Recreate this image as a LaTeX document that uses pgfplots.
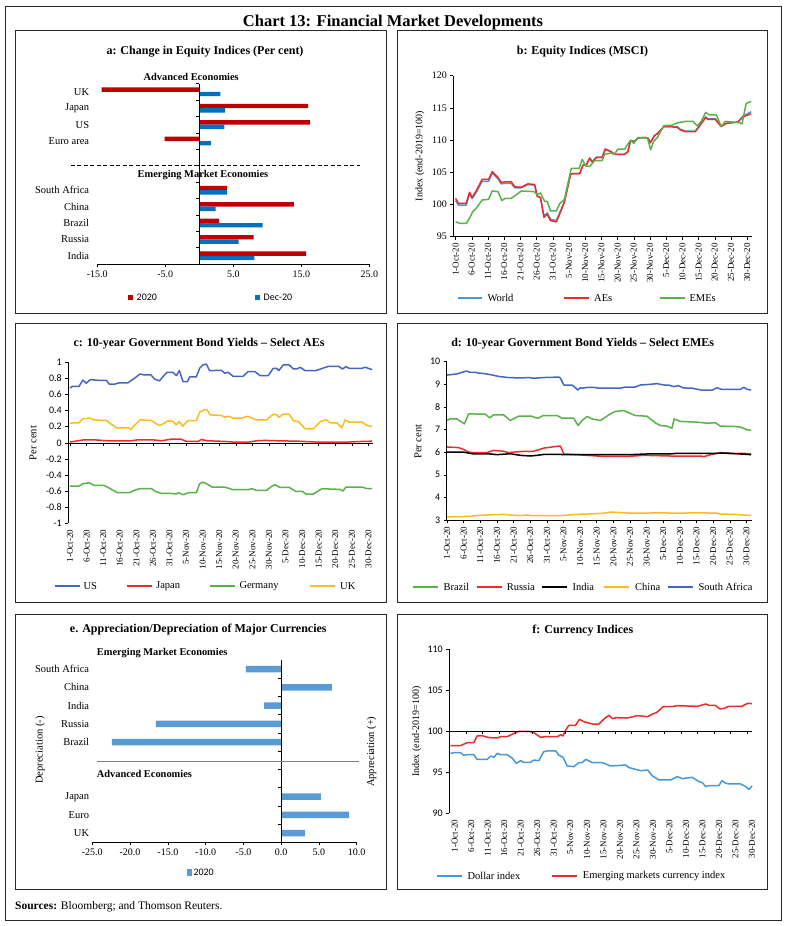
\documentclass[border=0pt]{standalone}
\usepackage{fontspec}
\setmainfont{Liberation Serif}
\newfontfamily\calibri{Carlito}
\usepackage{pgfplots}
\pgfplotsset{compat=1.18}

\definecolor{barred}{RGB}{192,0,0}
\definecolor{barblue}{RGB}{0,112,192}
\definecolor{lightbar}{RGB}{91,155,213}
\definecolor{cworld}{RGB}{70,152,216}
\definecolor{cred}{RGB}{232,45,45}
\definecolor{cgreen}{RGB}{88,178,72}
\definecolor{cblue}{RGB}{68,102,190}
\definecolor{corange}{RGB}{250,188,30}
\definecolor{frame}{RGB}{40,40,40}

\newcommand\fs[1]{\fontsize{#1}{#1}\selectfont}

\pgfplotsset{
  base/.style={scale only axis, anchor=south west, clip=false,
    /pgf/number format/assume math mode=true,
    tick align=outside, major tick length=3pt,
    every tick/.style={black, line width=0.5pt},
    axis line style={black, line width=0.6pt},
    tick label style={font=\fs{10}},
    axis x line*=bottom, axis y line*=left},
  dates/.style={xtick={0,5,...,90},
    xticklabels={1-Oct-20,6-Oct-20,11-Oct-20,16-Oct-20,21-Oct-20,26-Oct-20,31-Oct-20,5-Nov-20,10-Nov-20,15-Nov-20,20-Nov-20,25-Nov-20,30-Nov-20,5-Dec-20,10-Dec-20,15-Dec-20,20-Dec-20,25-Dec-20,30-Dec-20},
    xticklabel style={rotate=90, anchor=east, font=\fs{9}}},
  ln/.style={no markers, line width=1.5pt, line join=round},
}
\tikzset{lg/.style={line width=1.8pt}}

\begin{document}
\begin{tikzpicture}
\useasboundingbox (0pt,0pt) rectangle (785pt,-926pt);

% ---------- a: change in equity indices
\begin{axis}[base, at={(97.3pt,-264pt)}, width=272pt, height=180.4pt,
  xbar, bar width=4.4pt,
  xmin=-15, xmax=25, ymin=-0.5, ymax=10.5,
  xtick={-15,-5,5,15,25}, xticklabels={-15.0,-5.0,5.0,15.0,25.0},
  ytick={0,...,10},
  yticklabels={India,Russia,Brazil,China,South Africa,,,Euro area,US,Japan,UK},
  y axis line style={draw=none}, ytick style={draw=none},
  yticklabel style={font=\fs{10.5}, inner sep=0pt, xshift=-5pt}]
\addplot[fill=barred, draw=none, bar shift=2.2pt] coordinates {
  (15.7,0) (8.0,1) (2.9,2) (13.9,3) (4.1,4) (-5.1,7) (16.3,8) (16.0,9) (-14.35,10)};
\addplot[fill=barblue, draw=none, bar shift=-2.2pt] coordinates {
  (8.1,0) (5.8,1) (9.3,2) (2.4,3) (4.1,4) (1.7,7) (3.7,8) (3.8,9) (3.1,10)};
\draw[line width=0.6pt] (axis cs:0,-0.5) -- (axis cs:0,10.5);
\pgfplotsinvokeforeach{0.5,1.5,...,10.5}{\draw[line width=0.5pt] (axis cs:0,#1) -- ++(-3pt,0pt);}
\draw[line width=0.7pt, dash pattern=on 4pt off 2.5pt] (axis cs:-18.9,5.5) -- (axis cs:23.6,5.5);
\end{axis}

% ---------- b: equity indices
\begin{axis}[base, dates, at={(453.3pt,-236.7pt)}, width=298.4pt, height=161pt,
  xmin=-0.7, xmax=91.4, ymin=95, ymax=120, ytick={95,100,...,120}]
\addplot[ln, cworld] coordinates {
(0,100.6) (0.9,99.9) (3.3,99.9) (4.3,101.7) (5.1,100.9) (6.4,101.9) (8.2,103.6) (10.2,103.6) (11.3,104.9) (13.1,104.0) (14.1,103.2) (15.1,103.3) (17.2,103.3) (18.2,102.6) (20.3,102.6) (22.3,103.1) (24.4,103.0) (25.2,101.3) (26.2,101.0) (27.3,98.2) (28.3,98.7) (29.3,97.7) (31.1,97.5) (32.1,98.6) (33.6,100.5) (35.5,104.7) (36.2,104.8) (38.3,104.8) (39.3,106.1) (40.3,106.1) (41.4,107.2) (42.2,106.6) (43.4,107.3) (45.2,107.3) (46.2,108.6) (48.0,108.2) (49.1,107.8) (52.2,107.8) (53.2,108.2) (54.0,109.9) (55.2,109.8) (56.3,110.3) (58.3,110.4) (59.4,110.3) (60.1,109.6) (61.4,110.7) (62.4,111.05) (64.3,112.1) (66.6,112.1) (67.6,112.1) (68.4,112.1) (69.3,111.7) (70.9,111.4) (74.0,111.4) (75.1,112.1) (77.2,113.6) (77.9,113.3) (80.2,113.3) (82.0,112.1) (83.5,112.6) (87.1,112.8) (88.7,113.7) (91.2,114.4)};
\addplot[ln, cred] coordinates {
(0,100.96) (0.9,100.18) (3.3,100.18) (4.3,101.9) (5.1,101.1) (6.4,102.15) (8.2,103.9) (10.2,103.9) (11.3,105.1) (13.1,104.2) (14.1,103.4) (15.1,103.5) (17.2,103.5) (18.2,102.8) (19.2,102.7) (20.3,102.7) (22.3,103.2) (24.4,103.1) (25.2,101.3) (26.2,101.1) (27.3,98.0) (28.3,98.5) (29.3,97.5) (31.1,97.3) (32.1,98.5) (33.6,100.4) (35.5,104.7) (36.2,104.8) (38.3,104.8) (39.3,106.1) (40.3,106.1) (41.4,107.2) (42.2,106.6) (43.4,107.3) (45.2,107.3) (46.2,108.6) (48.0,108.2) (49.1,107.8) (52.2,107.8) (53.2,108.2) (54.0,109.9) (55.2,109.8) (56.3,110.3) (58.3,110.4) (59.4,110.3) (60.1,109.6) (61.4,110.7) (62.4,111.05) (64.3,112.1) (66.6,112.1) (67.6,112.0) (68.4,112.0) (69.3,111.6) (70.9,111.3) (74.0,111.3) (75.1,112.1) (77.2,113.5) (77.9,113.2) (80.2,113.2) (82.0,112.1) (83.5,112.6) (87.1,112.8) (88.7,113.6) (91.2,114.1)};
\addplot[ln, cgreen] coordinates {
(0,97.33) (1.2,97.07) (3.3,97.07) (4.3,97.85) (5.3,98.9) (6.4,99.4) (8.2,100.7) (10.2,100.8) (11.3,102.1) (13.1,102.0) (14.3,100.6) (15.3,100.96) (17.2,100.96) (18.7,101.5) (20.3,102.1) (24.2,102.0) (25.2,101.5) (26.2,101.8) (27.5,100.5) (28.3,100.5) (29.3,99.0) (31.1,99.0) (32.1,100.1) (33.6,100.8) (35.7,105.6) (38.1,105.6) (39.1,107.0) (40.1,106.0) (41.4,105.9) (42.9,106.8) (45.2,106.8) (46.0,107.8) (48.0,108.0) (49.0,107.8) (50.1,108.6) (52.2,108.6) (54.0,110.0) (55.0,109.5) (56.3,110.4) (59.2,110.4) (60.2,108.5) (61.1,109.75) (62.4,110.5) (64.3,112.25) (66.6,112.3) (68.6,112.7) (70.9,112.9) (73.3,112.9) (74.6,112.2) (75.8,112.9) (77.2,114.3) (78.4,113.9) (80.5,113.9) (82.0,112.1) (83.2,112.9) (87.7,112.7) (88.4,112.5) (89.7,115.7) (91.2,116.0)};
\end{axis}

% ---------- c: bond yields AEs
\begin{axis}[base, dates, at={(68.3pt,-523.3pt)}, width=304.4pt, height=161pt,
  xmin=-0.51, xmax=91.3, ymin=-1, ymax=1,
  x axis line style={draw=none}, xtick style={draw=none},
  ytick={-1,-0.8,-0.6,-0.4,-0.2,0,0.2,0.4,0.6,0.8,1},
  yticklabels={-1,-0.8,-0.6,-0.4,-0.2,0,0.2,0.4,0.6,0.8,1},
  yticklabel style={font=\calibri\fs{10}}]
\addplot[ln, cblue] coordinates {
(0,0.68) (0.7,0.70) (2.7,0.70) (3.9,0.78) (4.9,0.74) (6.1,0.785) (8.3,0.777) (11.0,0.777) (11.8,0.73) (13.3,0.727) (14.8,0.744) (17.4,0.744) (19.4,0.80) (21.1,0.855) (22.4,0.843) (24.4,0.843) (25.5,0.793) (27.0,0.769) (28.5,0.843) (29.3,0.876) (31.0,0.876) (32.1,0.835) (33.0,0.897) (34.1,0.76) (35.4,0.76) (36.1,0.818) (38.1,0.818) (39.1,0.926) (40.1,0.967) (41.1,0.979) (42.1,0.897) (45.7,0.90) (46.7,0.864) (47.7,0.876) (49.2,0.826) (52.2,0.826) (53.7,0.884) (55.8,0.884) (57.3,0.835) (59.8,0.835) (61.3,0.926) (62.3,0.926) (63.0,0.897) (64.3,0.967) (66.1,0.967) (67.4,0.917) (68.4,0.917) (69.4,0.938) (70.9,0.897) (74.1,0.897) (76.5,0.93) (78.0,0.95) (81.0,0.95) (82.2,0.917) (83.2,0.946) (84.2,0.926) (88.1,0.926) (89.1,0.938) (91.1,0.909)};
\addplot[ln, cred] coordinates {
(0,0.01) (4.2,0.037) (7.3,0.037) (11.3,0.025) (18.4,0.025) (20.4,0.037) (24.9,0.037) (27.5,0.025) (30.5,0.045) (33.5,0.045) (35.1,0.017) (38.6,0.017) (39.6,0.04) (41.6,0.025) (46.7,0.017) (49.7,0.008) (53.7,0.008) (56.3,0.025) (58.8,0.03) (62.8,0.025) (68.9,0.02) (75,0.008) (83,0.008) (88.1,0.017) (91.1,0.02)};
\addplot[ln, cgreen] coordinates {
(0,-0.537) (2.7,-0.537) (3.9,-0.508) (5.8,-0.496) (7.3,-0.529) (10.3,-0.529) (11.8,-0.562) (14.3,-0.62) (17.9,-0.62) (19.4,-0.59) (21.1,-0.57) (24.6,-0.57) (25.7,-0.603) (27.5,-0.628) (30.5,-0.628) (32.0,-0.636) (32.8,-0.62) (34.0,-0.645) (35.8,-0.62) (38.1,-0.62) (39.1,-0.508) (40.1,-0.488) (41.1,-0.508) (42.9,-0.55) (46.7,-0.55) (47.9,-0.566) (49.2,-0.583) (53.7,-0.583) (54.7,-0.57) (56.3,-0.59) (59.3,-0.59) (60.8,-0.541) (61.8,-0.52) (63.3,-0.554) (66.1,-0.554) (68.1,-0.603) (70.1,-0.603) (71.1,-0.636) (73.4,-0.636) (76.0,-0.57) (81.5,-0.579) (82.3,-0.6) (83.2,-0.55) (88.1,-0.55) (89.6,-0.57) (91.1,-0.57)};
\addplot[ln, corange] coordinates {
(0,0.236) (0.7,0.248) (2.7,0.248) (3.9,0.30) (4.9,0.30) (6.1,0.306) (7.3,0.285) (11.0,0.277) (12.3,0.236) (14.0,0.186) (17.6,0.186) (18.4,0.165) (19.4,0.215) (21.1,0.285) (24.6,0.277) (25.7,0.244) (27.0,0.215) (28.5,0.244) (29.2,0.269) (31.0,0.269) (32.0,0.223) (33.0,0.264) (34.0,0.207) (35.6,0.277) (38.1,0.277) (39.1,0.38) (40.6,0.413) (41.3,0.41) (42.3,0.347) (45.7,0.339) (46.7,0.318) (47.9,0.33) (49.2,0.306) (51.7,0.306) (53.7,0.33) (55.3,0.298) (56.3,0.285) (59.3,0.285) (61.3,0.355) (62.3,0.35) (63.0,0.318) (64.3,0.355) (66.1,0.355) (67.4,0.273) (68.9,0.264) (70.9,0.174) (73.4,0.174) (75.5,0.264) (77.2,0.289) (78.5,0.248) (80.5,0.248) (82.0,0.186) (83.0,0.285) (84.2,0.256) (88.1,0.256) (89.6,0.215) (91.1,0.202)};
\draw[line width=0.6pt] (axis cs:-0.51,0) -- (axis cs:91.3,0);
\pgfplotsinvokeforeach{0,5,...,90}{\draw[line width=0.5pt] (axis cs:#1,0) -- ++(0pt,-3pt);}
\end{axis}

% ---------- d: bond yields EMEs
\begin{axis}[base, dates, at={(446.7pt,-520pt)}, width=305pt, height=158.3pt,
  xmin=-0.1, xmax=91.6, ymin=3, ymax=10, ytick={3,...,10},
  yticklabel style={font=\calibri\fs{10}}]
\addplot[ln, cgreen] coordinates {
(0,7.40) (0.8,7.47) (3.0,7.47) (5.2,7.25) (6.5,7.69) (7.5,7.69) (11.5,7.68) (12.8,7.52) (14.0,7.65) (17.0,7.65) (19.0,7.40) (21.5,7.59) (25.5,7.59) (26.1,7.55) (27.3,7.50) (28.9,7.62) (33.1,7.62) (34.6,7.50) (38.1,7.50) (39.4,7.18) (40.6,7.40) (42.1,7.58) (43.6,7.47) (46.1,7.40) (49.1,7.69) (50.6,7.80) (53.1,7.84) (56.6,7.62) (60.1,7.59) (62.6,7.30) (64.1,7.18) (66.1,7.15) (67.6,7.06) (68.3,7.47) (70.1,7.36) (75.1,7.33) (78.2,7.28) (80.7,7.30) (82.2,7.15) (86.2,7.14) (88.2,7.11) (90.2,6.99) (91.4,6.97)};
\addplot[ln, cred] coordinates {
(0,6.23) (3.5,6.20) (5.0,6.12) (6.5,6.00) (8.2,5.98) (12.0,5.98) (14.0,6.08) (17.0,6.04) (18.5,5.98) (23.0,6.04) (26.0,6.04) (27.6,6.11) (29.1,6.18) (33.1,6.26) (34.1,6.27) (35.1,5.92) (39.1,5.89) (42.1,5.86) (47.1,5.81) (54.1,5.81) (59.1,5.86) (67.1,5.83) (76.2,5.83) (77.2,5.80) (79.2,5.89) (82.2,5.98) (85.2,5.93) (89.2,5.95) (91.4,5.92)};
\addplot[ln, black] coordinates {
(0,6.00) (5.0,6.00) (8.0,5.92) (13.0,5.92) (15.0,5.89) (19.0,5.93) (22.0,5.86) (25.1,5.83) (27.1,5.86) (29.1,5.90) (34.1,5.90) (35.1,5.89) (45.1,5.89) (55.1,5.89) (60.1,5.92) (67.1,5.92) (69.1,5.95) (75.2,5.95) (81.2,5.95) (84.2,5.96) (91.4,5.89)};
\addplot[ln, corange] coordinates {
(0,3.14) (7.0,3.16) (9.0,3.20) (13.0,3.23) (17.0,3.25) (19.0,3.22) (22.0,3.19) (24.0,3.22) (26.0,3.19) (34.1,3.19) (37.1,3.23) (39.1,3.25) (43.1,3.27) (47.1,3.30) (49.1,3.35) (52.1,3.33) (55.1,3.30) (59.1,3.30) (63.1,3.32) (69.1,3.30) (75.2,3.32) (81.2,3.30) (82.2,3.26) (86.2,3.25) (91.4,3.20)};
\addplot[ln, cblue] coordinates {
(0,9.41) (3.0,9.46) (4.5,9.53) (5.8,9.59) (7.0,9.53) (8.5,9.53) (9.5,9.50) (11.8,9.46) (13.0,9.43) (14.5,9.38) (16.0,9.34) (18.5,9.30) (22.0,9.28) (24.5,9.30) (26.0,9.27) (29.1,9.30) (33.6,9.32) (34.1,9.27) (35.1,8.97) (37.6,8.97) (38.6,8.85) (39.3,8.75) (40.1,8.85) (40.8,8.83) (42.3,8.87) (44.0,8.87) (45.6,8.83) (52.1,8.83) (53.6,8.88) (56.6,8.88) (58.1,8.97) (61.1,9.00) (63.1,9.03) (65.3,8.97) (66.6,8.97) (68.1,8.90) (69.6,8.94) (71.1,8.84) (73.6,8.83) (76.7,8.74) (79.7,8.74) (81.2,8.85) (82.4,8.78) (88.2,8.78) (89.2,8.87) (90.2,8.78) (91.4,8.75)};
\end{axis}

% ---------- e: currencies
\begin{axis}[base, at={(92.3pt,-842.3pt)}, width=264.4pt, height=182.3pt,
  xbar, bar width=6.5pt,
  xmin=-25, xmax=10, ymin=-0.5, ymax=9.5,
  xtick={-25,-20,...,10}, xticklabels={-25.0,-20.0,-15.0,-10.0,-5.0,0.0,5.0,10.0},
  ytick={0,...,9},
  yticklabels={UK,Euro,Japan,,,Brazil,Russia,India,China,South Africa},
  y axis line style={draw=none}, ytick style={draw=none},
  yticklabel style={font=\fs{10.5}, inner sep=0pt}]
\addplot[fill=lightbar, draw=none, bar shift=0pt] coordinates {
  (3.14,0) (9.0,1) (5.25,2) (-22.4,5) (-16.6,6) (-2.25,7) (6.7,8) (-4.67,9)};
\draw[line width=0.6pt] (axis cs:0,-0.5) -- (axis cs:0,9.5);
\pgfplotsinvokeforeach{0.5,1.5,...,8.5}{\draw[line width=0.5pt] (axis cs:0,#1) -- ++(-3pt,0pt);}
\draw[gray, line width=0.8pt] (axis cs:-24.4,3.92) -- (axis cs:10.33,3.92);
\end{axis}

% ---------- f: currency indices
\begin{axis}[base, dates, at={(449.3pt,-813.3pt)}, width=303pt, height=164.3pt,
  xmin=-0.1, xmax=91.6, ymin=90, ymax=110, ytick={90,95,...,110},
  x axis line style={draw=none}, xtick style={draw=none},
  yticklabel style={font=\calibri\fs{10}},
  xticklabel style={yshift=-5pt}]
\addplot[ln, cworld] coordinates {
(0.25,97.30) (1.3,97.38) (3.3,97.38) (4.3,97.06) (5.3,97.14) (7.3,97.14) (8.3,96.57) (11.4,96.57) (12.4,96.98) (13.4,96.82) (14.4,97.30) (15.4,97.14) (17.4,97.14) (18.9,96.73) (20.2,96.08) (21.5,96.41) (22.5,96.21) (24.5,96.21) (25.5,96.49) (27.0,96.41) (28.5,97.51) (29.5,97.59) (32.1,97.59) (33.1,97.06) (34.3,96.82) (35.6,95.76) (37.6,95.68) (39.1,96.17) (40.1,96.17) (41.2,96.57) (43.2,96.17) (46.2,96.17) (48.7,95.76) (53.3,95.88) (54.3,95.56) (55.8,95.40) (57.8,95.19) (59.9,95.27) (61.4,94.54) (63.4,94.06) (66.9,94.06) (68.9,94.46) (70.4,94.22) (73.4,94.38) (75.5,93.85) (76.5,93.73) (77.5,93.25) (78.5,93.37) (81.5,93.37) (82.4,93.98) (83.6,93.65) (84.6,93.57) (88.1,93.57) (89.6,93.25) (90.6,92.92) (91.5,93.33)};
\addplot[ln, cred] coordinates {
(0.25,98.24) (3.3,98.24) (5.3,98.60) (7.3,98.60) (8.3,99.41) (9.8,99.45) (12.0,99.21) (14.4,99.17) (15.4,99.33) (17.4,99.33) (20.0,99.82) (21.0,99.98) (24.0,99.98) (25.5,99.82) (27.5,99.25) (29.0,99.33) (32.6,99.33) (33.6,99.57) (34.3,99.41) (35.1,100.14) (36.1,100.71) (38.1,100.71) (39.3,101.44) (40.6,101.16) (43.2,100.87) (45.2,100.87) (46.7,101.48) (48.2,101.93) (49.3,101.52) (50.3,101.64) (53.8,101.60) (56.8,101.89) (59.9,101.76) (61.4,102.09) (62.6,102.25) (64.6,102.98) (67.4,102.98) (68.9,103.10) (75.0,103.02) (77.5,103.31) (78.5,103.14) (80.4,103.14) (81.8,102.70) (83.1,102.78) (84.4,103.02) (88.4,103.02) (90.2,103.39) (91.5,103.35)};
\draw[line width=0.6pt] (axis cs:-0.1,100) -- (axis cs:91.6,100);
\pgfplotsinvokeforeach{0,5,...,90}{\draw[line width=0.5pt] (axis cs:#1,100) -- ++(0pt,-3pt);}
\end{axis}

% ---------- frames, titles, labels, legends
\begin{scope}[x=1pt, y=-1pt]
\draw[frame, line width=0.8pt] (5.5,6) rectangle (781,920.5);
\foreach \yy/\yb in {30/313, 323.5/602.5, 614/889.5}{
  \draw[frame, line width=0.8pt] (15.7,\yy) rectangle (386.7,\yb);
  \draw[frame, line width=0.8pt] (397.3,\yy) rectangle (767,\yb);}
\node[font=\bfseries\fs{16.5}] at (393,23) {Chart 13: Financial Market Developments};
\node[font=\bfseries\fs{12}] at (205,52) {a: Change in Equity Indices (Per cent)};
\node[font=\bfseries\fs{12}] at (582.5,52) {b: Equity Indices (MSCI)};
\node[font=\bfseries\fs{12}] at (199,344) {c: 10-year Government Bond Yields – Select AEs};
\node[font=\bfseries\fs{12}] at (582.7,344) {d: 10-year Government Bond Yields – Select EMEs};
\node[font=\bfseries\fs{12}] at (198.3,630) {e. Appreciation/Depreciation of Major Currencies};
\node[font=\bfseries\fs{12}] at (582.8,631) {f: Currency Indices};
\node[anchor=west, inner sep=0pt, font=\fs{11.5}] at (15,907) {\textbf{Sources:} Bloomberg; and Thomson Reuters.};

% a
\node[font=\bfseries\fs{10.4}] at (191.2,76.7) {Advanced Economies};
\node[font=\bfseries\fs{10.4}] at (203,175) {Emerging Market Economies};
\fill[barred] (128.3,295) rectangle (133.3,300);
\node[anchor=west, inner sep=0pt, font=\calibri\fs{10}] at (136.5,297.5) {2020};
\fill[barblue] (255,295) rectangle (260,300);
\node[anchor=west, inner sep=0pt, font=\calibri\fs{10}] at (263.5,297.5) {Dec-20};

% b
\node[rotate=90, font=\fs{10}] at (420,156) {Index (end-2019=100)};
\draw[cworld, lg] (457.7,298.3) -- (482.3,298.3);
\node[anchor=west, inner sep=0pt, font=\fs{10.5}] at (487.3,298.3) {World};
\draw[cred, lg] (564,298.3) -- (589,298.3);
\node[anchor=west, inner sep=0pt, font=\fs{10.5}] at (594,298.3) {AEs};
\draw[cgreen, lg] (660,298.3) -- (685,298.3);
\node[anchor=west, inner sep=0pt, font=\fs{10.5}] at (689.3,298.3) {EMEs};

% c
\node[rotate=90, font=\fs{10.5}] at (33,443) {Per cent};
\draw[cblue, lg] (55,585.7) -- (80,585.7);
\node[anchor=west, inner sep=0pt, font=\fs{10.5}] at (83.3,585.7) {US};
\draw[cred, lg] (126.7,585.7) -- (151.7,585.7);
\node[anchor=west, inner sep=0pt, font=\fs{10.5}] at (156,585.7) {Japan};
\draw[cgreen, lg] (210,585.7) -- (235,585.7);
\node[anchor=west, inner sep=0pt, font=\fs{10.5}] at (239.3,585.7) {Germany};
\draw[corange, lg] (310,585.7) -- (335,585.7);
\node[anchor=west, inner sep=0pt, font=\fs{10.5}] at (340,585.7) {UK};

% d
\node[rotate=90, font=\fs{10.5}] at (418,441.7) {Per cent};
\draw[cgreen, lg] (413.3,586.7) -- (438.3,586.7);
\node[anchor=west, inner sep=0pt, font=\fs{10.5}] at (443.3,586.7) {Brazil};
\draw[cred, lg] (476.7,586.7) -- (501.7,586.7);
\node[anchor=west, inner sep=0pt, font=\fs{10.5}] at (506.7,586.7) {Russia};
\draw[black, lg] (541.7,586.7) -- (566.7,586.7);
\node[anchor=west, inner sep=0pt, font=\fs{10.5}] at (572.3,586.7) {India};
\draw[corange, lg] (604.3,586.7) -- (629.3,586.7);
\node[anchor=west, inner sep=0pt, font=\fs{10.5}] at (635,586.7) {China};
\draw[cblue, lg] (668.3,586.7) -- (693.3,586.7);
\node[anchor=west, inner sep=0pt, font=\fs{10.5}] at (698.3,586.7) {South Africa};

% e
\node[anchor=west, inner sep=0pt, font=\bfseries\fs{10.4}] at (96.7,653.3) {Emerging Market Economies};
\node[anchor=west, inner sep=0pt, font=\bfseries\fs{10.4}] at (96.7,774) {Advanced Economies};
\node[rotate=90, font=\fs{10.5}] at (40,750) {Depreciation (-)};
\node[rotate=90, font=\fs{10.5}] at (371.7,751.7) {Appreciation (+)};
\fill[lightbar] (186.7,869.3) rectangle (192.3,875.7);
\node[anchor=west, inner sep=0pt, font=\calibri\fs{10}] at (193.3,872.5) {2020};

% f
\node[rotate=90, font=\fs{10}] at (416.7,731.7) {Index (end-2019=100)};
\draw[cworld, lg] (436.7,875.7) -- (461.7,875.7);
\node[anchor=west, inner sep=0pt, font=\fs{10.5}] at (467.3,875.7) {Dollar index};
\draw[cred, lg] (552.3,875.7) -- (577.3,875.7);
\node[anchor=west, inner sep=0pt, font=\fs{10.5}] at (582.7,875.7) {Emerging markets currency index};
\end{scope}
\end{tikzpicture}
\end{document}
